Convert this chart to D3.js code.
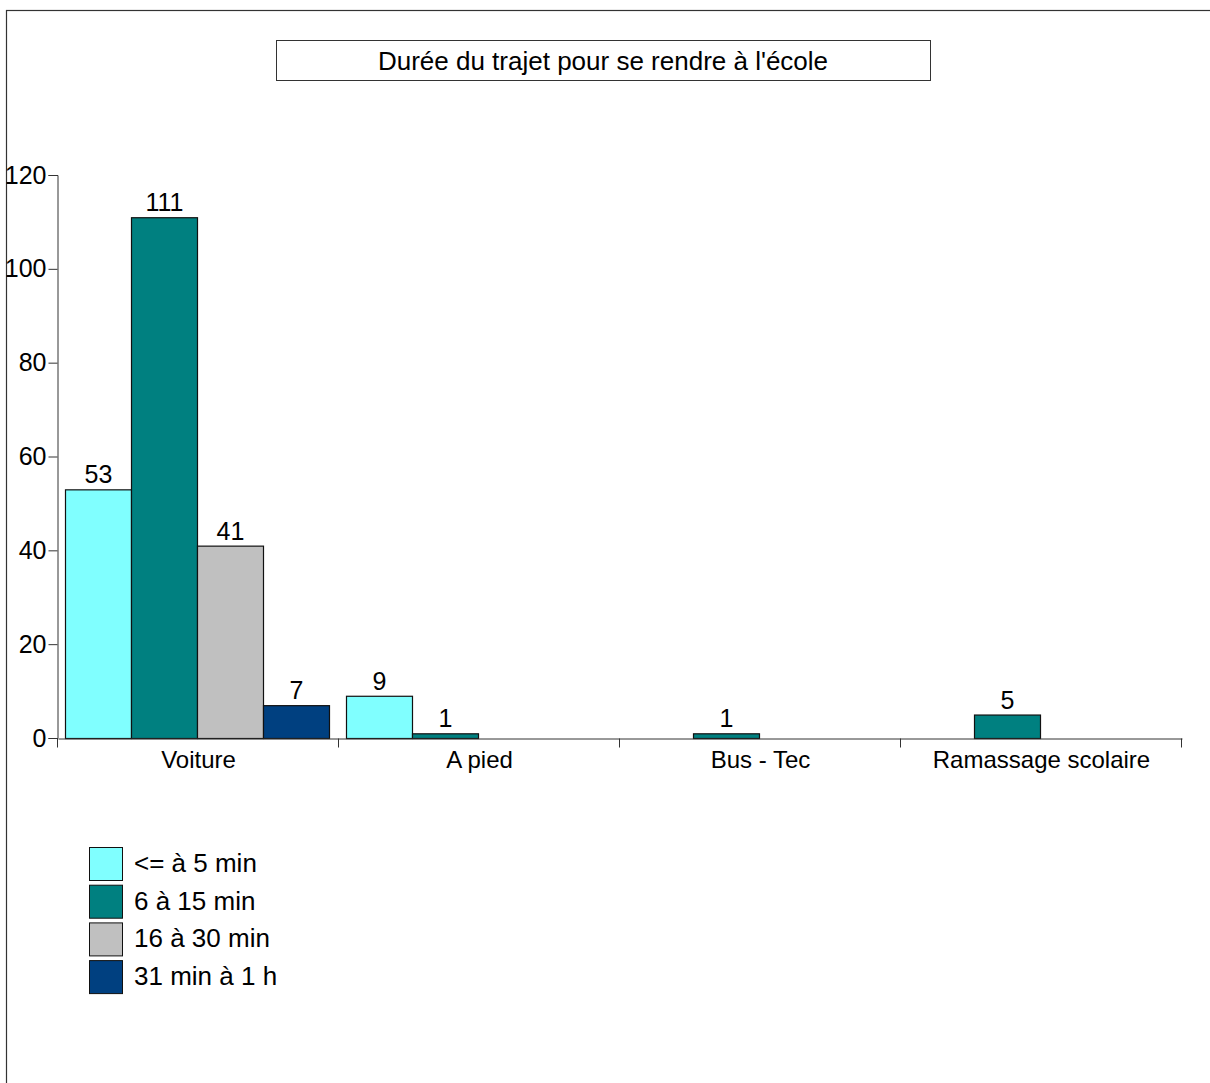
<!DOCTYPE html>
<html><head><meta charset="utf-8">
<script src="https://cdn.jsdelivr.net/npm/d3@7"></script>
<style>body{margin:0;background:#fff}svg{display:block}text{font-family:"Liberation Sans",Arial,sans-serif;fill:#000}</style>
</head><body>
<script>
const categories = ["Voiture", "A pied", "Bus - Tec", "Ramassage scolaire"];
const seriesNames = ["<= à 5 min", "6 à 15 min", "16 à 30 min", "31 min à 1 h"];
const seriesColors = ["#80FFFF", "#008080", "#C0C0C0", "#004080"];
const s1 = [53, 9, null, null];
const s2 = [111, 1, 1, 5];
const s3 = [41, null, null, null];
const s4 = [7, null, null, null];
const yTicks = [0, 20, 40, 60, 80, 100, 120];
const title = "Durée du trajet pour se rendre à l'école";

(function () {
const series = [s1, s2, s3, s4];
const W = 1210, H = 1083;
const svg = d3.select("body").append("svg").attr("width", W).attr("height", H);

// outer frame
svg.append("rect").attr("x", 6.5).attr("y", 10.5).attr("width", W + 20).attr("height", H + 20)
  .attr("fill", "none").attr("stroke", "#333").attr("stroke-width", 1.2);

// title box
svg.append("rect").attr("x", 276.5).attr("y", 40.5).attr("width", 654).attr("height", 40)
  .attr("fill", "#fff").attr("stroke", "#333");
svg.append("text").attr("x", 603).attr("y", 70).attr("text-anchor", "middle")
  .attr("font-size", 26).text(title);

const pL = 58, pR = 1182, pT = 175, pB = 738;
const x = d3.scaleBand().domain(categories).range([pL, pR]).paddingInner(0).paddingOuter(0);
const xs = d3.scaleBand().domain(d3.range(4)).range([7, x.bandwidth() - 10]);
const y = d3.scaleLinear().domain([0, 120]).range([pB, pT]);

// y axis
const yAxis = svg.append("g").attr("transform", `translate(${pL - 0.5},0)`)
  .call(d3.axisLeft(y).tickValues(yTicks).tickSize(9).tickPadding(2));
yAxis.select(".domain").attr("stroke", "#333");
yAxis.selectAll(".tick line").attr("stroke", "#333");
yAxis.selectAll(".tick text").attr("font-size", 25).attr("font-family", "Liberation Sans, Arial, sans-serif").attr("fill", "#000");

// bars
categories.forEach((c, ci) => {
  series.forEach((s, si) => {
    const v = s[ci];
    if (v == null) return;
    const bx = x(c) + xs(si);
    svg.append("rect").attr("x", bx + 0.5).attr("y", y(v) + 0.5)
      .attr("width", xs.bandwidth()).attr("height", y(0) - y(v))
      .attr("fill", seriesColors[si]).attr("stroke", "#111").attr("stroke-width", 1.2);
    svg.append("text").attr("x", bx + xs.bandwidth() / 2 + 0.5).attr("y", y(v) - 6)
      .attr("text-anchor", "middle").attr("font-size", 25).text(v);
  });
});

// x axis
const xAxis = svg.append("g").attr("transform", `translate(0,${pB + 0.5})`)
  .call(d3.axisBottom(x).tickSize(0).tickPadding(12));
xAxis.select(".domain").attr("stroke", "#333");
xAxis.selectAll(".tick text").attr("font-size", 24).attr("font-family", "Liberation Sans, Arial, sans-serif").attr("fill", "#000");
const bounds = categories.map(c => x(c)).concat([pR]);
xAxis.selectAll(".bt").data(bounds).enter().append("line")
  .attr("x1", d => d - 0.5).attr("x2", d => d - 0.5).attr("y1", 0).attr("y2", 9).attr("stroke", "#333");

// legend
const lg = svg.append("g");
seriesNames.forEach((n, i) => {
  const ly = 847 + i * 37.7;
  lg.append("rect").attr("x", 89.5).attr("y", ly + 0.5).attr("width", 33).attr("height", 33)
    .attr("fill", seriesColors[i]).attr("stroke", "#111");
  lg.append("text").attr("x", 134).attr("y", ly + 25).attr("font-size", 26).text(n);
});
})();
</script>
</body></html>
